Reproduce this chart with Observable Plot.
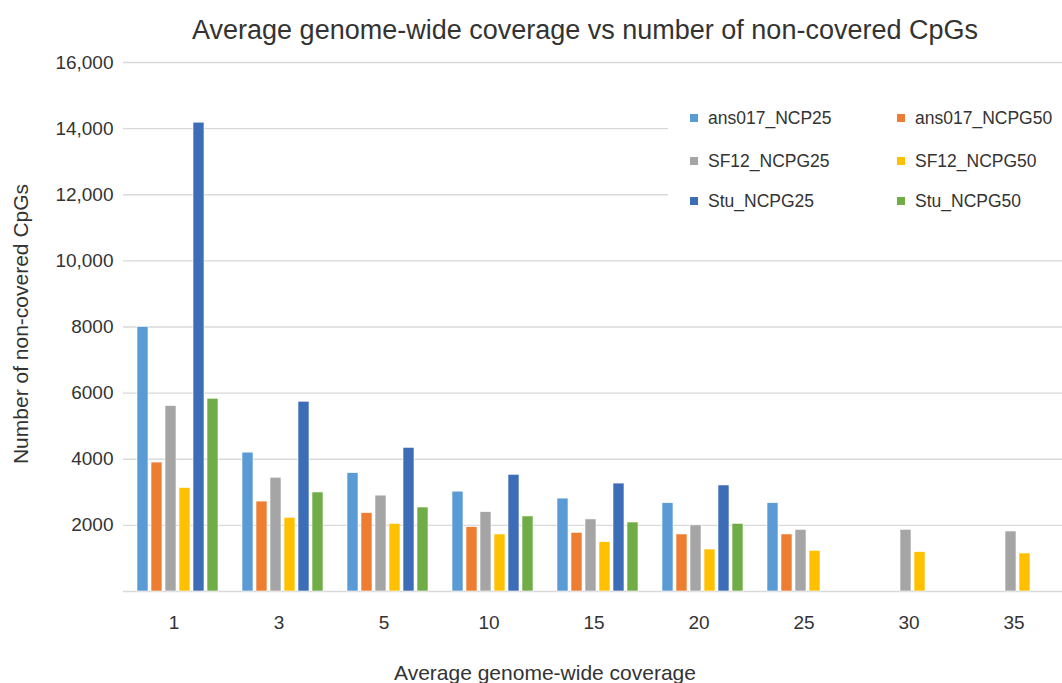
<!DOCTYPE html>
<html><head><meta charset="utf-8">
<script src="https://cdn.jsdelivr.net/npm/d3@7"></script>
<script src="https://cdn.jsdelivr.net/npm/@observablehq/plot@0.6"></script>
<style>
body{margin:0;background:#fff;font-family:"Liberation Sans",Arial,Helvetica,sans-serif;color:#333;}
#wrap{position:relative;width:1062px;height:683px;overflow:hidden;}
#title{position:absolute;top:15px;left:0;width:1170px;text-align:center;font-size:27px;color:#333;white-space:nowrap;}
.layer{position:absolute;top:50px;left:0;}
#ylab{position:absolute;left:21px;top:324px;transform:translate(-50%,-50%) rotate(-90deg);font-size:21px;white-space:nowrap;color:#333;}
#xlab{position:absolute;left:0;width:1090px;top:661px;text-align:center;font-size:21px;color:#333;white-space:nowrap;}
#legend{position:absolute;left:668px;top:95px;width:394px;height:130px;background:#fff;}
.li{position:absolute;font-size:17.5px;line-height:20px;color:#333;white-space:nowrap;}
.sw{position:absolute;width:8px;height:8px;}
</style></head>
<body>
<div id="wrap">
  <div id="title">Average genome-wide coverage vs number of non-covered CpGs</div>
  <div id="bg" class="layer"></div>
  <div id="fg" class="layer"></div>
  <div id="ylab">Number of non-covered CpGs</div>
  <div id="xlab">Average genome-wide coverage</div>
  <div id="legend"></div>
</div>
<script>
const coverage = ["1","3","5","10","15","20","25","30","35"];
const seriesNames = ["ans017_NCP25","ans017_NCPG50","SF12_NCPG25","SF12_NCPG50","Stu_NCPG25","Stu_NCPG50"];
const colors = ["#5B9BD5","#ED7D31","#A5A5A5","#FFC000","#3D6DB6","#70AD47"];
const ans017_NCP25  = [8000, 4200, 3580, 3020, 2810, 2670, 2670, null, null];
const ans017_NCPG50 = [3900, 2720, 2370, 1945, 1775, 1725, 1725, null, null];
const SF12_NCPG25   = [5610, 3440, 2900, 2400, 2180, 2000, 1866, 1866, 1815];
const SF12_NCPG50   = [3130, 2230, 2045, 1725, 1490, 1270, 1230, 1190, 1150];
const Stu_NCPG25    = [14180, 5740, 4345, 3530, 3265, 3207, null, null, null];
const Stu_NCPG50    = [5830, 2995, 2540, 2270, 2087, 2047, null, null, null];
const yTicks = [0, 2000, 4000, 6000, 8000, 10000, 12000, 14000, 16000];

const seriesValues = [ans017_NCP25, ans017_NCPG50, SF12_NCPG25, SF12_NCPG50, Stu_NCPG25, Stu_NCPG50];
const data = [];
coverage.forEach((c, i) => seriesNames.forEach((s, j) => {
  const v = seriesValues[j][i];
  if (v != null) data.push({cov: c, series: s, value: v});
}));

const fmt = d => d === 0 ? "" : (d >= 10000 ? d3.format(",")(d) : String(d));
const font = '"Liberation Sans",Arial,Helvetica,sans-serif';
const common = {
  width: 1062, height: 633,
  marginTop: 12, marginLeft: 123, marginRight: 0, marginBottom: 92,
  style: {fontFamily: font, fontSize: "19px", color: "#333", background: "transparent", overflow: "visible"}
};

// Background: gridlines and y axis
const bg = Plot.plot({
  ...common,
  y: {domain: [0, 16000], label: null},
  marks: [
    Plot.ruleY(yTicks, {stroke: "#d9d9d9", strokeWidth: 1.3}),
    Plot.axisY(yTicks, {tickSize: 0, tickPadding: 10, tickFormat: fmt, fontSize: 19, label: null})
  ]
});
document.getElementById("bg").appendChild(bg);

// Foreground: grouped bars
const fg = Plot.plot({
  ...common,
  fx: {domain: coverage, range: [134, 1060], paddingInner: 0.231, paddingOuter: 0, label: null, axis: null},
  x: {domain: seriesNames, axis: null, paddingInner: 0.25, paddingOuter: 0},
  y: {domain: [0, 16000], axis: null, label: null},
  color: {domain: seriesNames, range: colors},
  marks: [
    Plot.barY(data, {fx: "cov", x: "series", y: "value", fill: "series", stroke: "#fff", strokeWidth: 0.6}),
    Plot.axisFx({anchor: "bottom", tickSize: 0, tickPadding: 24, fontSize: 19, dx: -4, label: null})
  ]
});
document.getElementById("fg").appendChild(fg);

const lg = document.getElementById("legend");
const rowY = [23, 66, 106];
const colX = [22, 229];
seriesNames.forEach((s, j) => {
  const r = Math.floor(j / 2), c = j % 2;
  const sw = document.createElement("div");
  sw.className = "sw";
  sw.style.left = colX[c] + "px";
  sw.style.top = (rowY[r] - 4) + "px";
  sw.style.background = colors[j];
  lg.appendChild(sw);
  const t = document.createElement("div");
  t.className = "li";
  t.textContent = s;
  t.style.left = (colX[c] + 18) + "px";
  t.style.top = (rowY[r] - 10) + "px";
  lg.appendChild(t);
});
</script>
</body></html>
